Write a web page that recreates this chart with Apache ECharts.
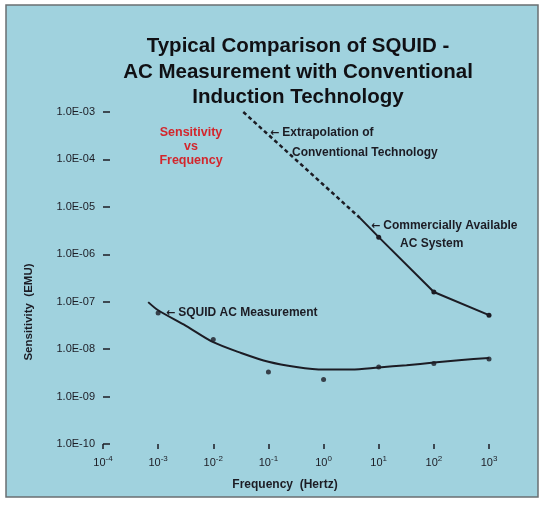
<!DOCTYPE html>
<html>
<head>
    <meta charset="UTF-8">
    <script src="https://cdn.jsdelivr.net/npm/echarts@6/dist/echarts.min.js"></script>
    <title>SQUID vs Conventional</title>
    <style>
        html, body { margin: 0; padding: 0; background: #fff; }
        #main { width: 543px; height: 510px; }
    </style>
</head>
<body>
<div id="main"></div>
<script>
    // data (Hz, EMU)
    var squidFreq = [1e-3, 1e-2, 1e-1, 1, 10, 100, 1000];
    var squidMeasured = [5.8e-8, 1.6e-8, 3.3e-9, 2.3e-9, 4.2e-9, 5.0e-9, 6.2e-9];
    // hand-drawn fit through the SQUID points, read every half decade
    var squidFitFreq = [6.6e-4, 1e-3, 3.2e-3, 1e-2, 3.2e-2, 1e-1, 3.2e-1, 1, 3.2, 10, 32, 100, 320, 1000];
    var squidFitVal = [9.8e-8, 6.6e-8, 3.1e-8, 1.4e-8, 8.3e-9, 5.4e-9, 4.2e-9, 3.7e-9, 3.7e-9, 4.1e-9, 4.6e-9, 5.2e-9, 5.9e-9, 6.5e-9];
    var extrapFreq = [0.035, 4.6];
    var extrapVal = [1.0e-3, 5.8e-6];
    var commFreq = [4.6, 10, 100, 1000];
    var commVal = [5.8e-6, 2.3e-6, 1.6e-7, 5.2e-8];

    var sans = "'Liberation Sans', Arial, sans-serif";
    var ink = '#1c1c24';

    function pairs(xs, ys) {
        return xs.map(function (x, i) { return [x, ys[i]]; });
    }
    function expOf(v) { return Math.round(Math.log(v) / Math.LN10); }

    // note text with a left arrow in front
    function note(x, y, label) {
        return {
            type: 'text', x: x, y: y,
            style: {
                text: '{a|\u2190}' + label,
                fill: ink, font: 'bold 12px ' + sans, textVerticalAlign: 'middle',
                rich: { a: { fontFamily: "'DejaVu Sans', sans-serif", fontWeight: 'bold', fontSize: 11, padding: [0, 3, 0, 0] } }
            }
        };
    }
    function plain(x, y, label) {
        return {
            type: 'text', x: x, y: y,
            style: { text: label, fill: ink, font: 'bold 12px ' + sans, textVerticalAlign: 'middle' }
        };
    }

    var myChart = echarts.init(document.getElementById('main'));

    var option = {
        backgroundColor: '#ffffff',
        animation: false,
        title: {
            text: 'Typical Comparison of SQUID -\nAC Measurement with Conventional\nInduction Technology',
            left: 293,
            top: 29,
            textAlign: 'center',
            textStyle: {
                fontFamily: sans,
                fontWeight: 'bold',
                fontSize: 20.5,
                lineHeight: 25.5,
                color: '#101014'
            }
        },
        grid: { left: 103, right: 54, top: 112, bottom: 66 },
        xAxis: {
            type: 'log',
            logBase: 10,
            min: 1e-4,
            max: 1e3,
            splitNumber: 7,
            axisLine: { show: false },
            axisTick: { show: true, length: 5, lineStyle: { color: ink, width: 1.5 } },
            splitLine: { show: false },
            axisLabel: {
                margin: 11,
                formatter: function (v) {
                    return '{b|10}{s|' + expOf(v) + '}';
                },
                rich: {
                    b: { fontFamily: sans, fontSize: 11, color: ink, lineHeight: 16 },
                    s: { fontFamily: sans, fontSize: 8, color: ink, lineHeight: 11, verticalAlign: 'top' }
                }
            }
        },
        yAxis: {
            type: 'log',
            logBase: 10,
            min: 1e-10,
            max: 1e-3,
            splitNumber: 7,
            axisLine: { show: false },
            axisTick: { show: true, inside: true, length: 7, lineStyle: { color: ink, width: 1.5 } },
            splitLine: { show: false },
            axisLabel: {
                margin: 8,
                fontFamily: sans,
                fontSize: 11,
                color: ink,
                formatter: function (v) {
                    var e = expOf(v);
                    var s = Math.abs(e) < 10 ? '0' + Math.abs(e) : '' + Math.abs(e);
                    return '1.0E' + (e < 0 ? '-' : '') + s;
                }
            }
        },
        graphic: [
            {
                type: 'rect', z: -10, silent: true,
                shape: { x: 6, y: 5, width: 532, height: 492 },
                style: { fill: '#a0d2de', stroke: '#6a6f72', lineWidth: 1.5 }
            },
            {
                type: 'text', x: 29, y: 312, rotation: Math.PI / 2,
                style: { text: 'Sensitivity  (EMU)', fill: ink, font: 'bold 11.5px ' + sans, textAlign: 'center', textVerticalAlign: 'middle' }
            },
            {
                type: 'text', x: 285, y: 485,
                style: { text: 'Frequency  (Hertz)', fill: ink, font: 'bold 12px ' + sans, textAlign: 'center', textVerticalAlign: 'middle' }
            },
            {
                type: 'text', x: 191, y: 147,
                style: { text: 'Sensitivity\nvs\nFrequency', fill: '#d3262c', font: 'bold 12.5px ' + sans, lineHeight: 14, textAlign: 'center', textVerticalAlign: 'middle' }
            },
            note(270, 133, 'Extrapolation of'),
            plain(292, 153, 'Conventional Technology'),
            note(371, 226, 'Commercially Available'),
            plain(400, 244, 'AC System'),
            note(166, 313, 'SQUID AC Measurement')
        ],
        series: [
            {
                name: 'SQUID fit',
                type: 'line',
                smooth: 0.3,
                showSymbol: false,
                data: pairs(squidFitFreq, squidFitVal),
                lineStyle: { color: ink, width: 2 }
            },
            {
                name: 'SQUID AC Measurement',
                type: 'scatter',
                symbolSize: 5,
                data: pairs(squidFreq, squidMeasured),
                itemStyle: { color: ink }
            },
            {
                name: 'Extrapolation',
                type: 'line',
                showSymbol: false,
                data: pairs(extrapFreq, extrapVal),
                lineStyle: { color: ink, width: 2.5, type: [4, 3] }
            },
            {
                name: 'Commercial AC System',
                type: 'line',
                symbol: 'circle',
                symbolSize: function (val, p) { return p.dataIndex === 0 ? 0 : 5; },
                data: pairs(commFreq, commVal),
                lineStyle: { color: ink, width: 2 },
                itemStyle: { color: ink }
            }
        ]
    };

    myChart.setOption(option);
</script>
</body>
</html>
